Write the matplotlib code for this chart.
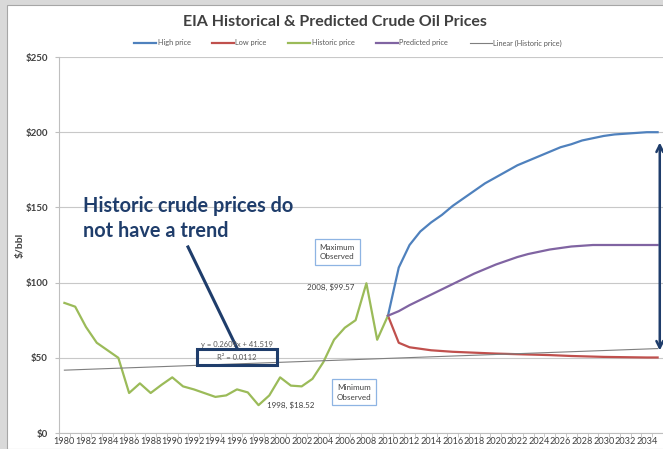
import matplotlib
matplotlib.use("Agg")
import matplotlib.pyplot as plt
import numpy as np
from matplotlib.patches import Rectangle

# data
hist_years = list(range(1980, 2011))
hist_price = [86.5, 84, 70.5, 60, 55, 50, 26.6, 33, 26.6, 32, 37, 31, 29, 26.5, 24,
              25, 29, 27, 18.52, 25, 37, 31.5, 31, 36, 47, 62, 70, 75, 99.57, 62, 78]

pred_years = list(range(2010, 2036))
high_price = [78, 110, 125, 134, 140, 145, 151, 156, 161, 166, 170, 174, 178, 181,
              184, 187, 190, 192, 194.5, 196, 197.5, 198.5, 199, 199.5, 200, 200]
low_price = [78, 60, 57, 56, 55, 54.5, 54, 53.7, 53.4, 53.1, 52.8, 52.6, 52.4, 52.2,
             52, 51.8, 51.5, 51.2, 51, 50.8, 50.6, 50.5, 50.4, 50.3, 50.2, 50.2]
predicted_price = [78, 81, 85, 88.5, 92, 95.5, 99, 102.5, 106, 109, 112, 114.5, 117,
                   119, 120.5, 122, 123, 124, 124.5, 125, 125, 125, 125, 125, 125, 125]

# trendline as printed on the chart
trend_slope = 0.2609
trend_intercept = 41.519
trend_r2 = 0.0112
all_years = list(range(1980, 2036))

yticks = [0, 50, 100, 150, 200, 250]
xtick_years = list(range(1980, 2035, 2))

BLUE, RED, GREEN, PURPLE = "#4F81BD", "#C0504D", "#9BBB59", "#8064A2"
NAVY = "#1F3D6B"
plt.rcParams["font.family"] = ["Lato", "DejaVu Sans"]

W, H = 663, 449
fig = plt.figure(figsize=(W / 100, H / 100), dpi=100)
fig.patch.set_facecolor("#d9d9d9")
fig.add_artist(Rectangle((7 / W, 0), 1, (H - 5) / H, transform=fig.transFigure,
                         facecolor="white", edgecolor="#a6a6a6", lw=0.8, zorder=0))

ax = fig.add_axes([59 / W, (H - 433) / H, (W - 59) / W, (433 - 57) / H])
ax.set_facecolor("none")

x_idx = np.arange(1, len(all_years) + 1)
ax.plot(pred_years, high_price, color=BLUE, lw=1.6, label="High price")
ax.plot(pred_years, low_price, color=RED, lw=1.6, label="Low price")
ax.plot(hist_years, hist_price, color=GREEN, lw=1.6, label="Historic price")
ax.plot(pred_years, predicted_price, color=PURPLE, lw=1.6, label="Predicted price")
ax.plot(all_years, trend_slope * x_idx + trend_intercept, color="#7f7f7f", lw=0.8,
        label="Linear (Historic price)")

ax.set_xlim(1979.5, 2035.5)
ax.set_ylim(0, 250)
ax.set_yticks(yticks)
ax.set_yticklabels([f"${v}" for v in yticks], fontsize=7, fontweight="bold", color="#404040")
ax.set_xticks(xtick_years)
ax.set_xticklabels([str(y) for y in xtick_years], fontsize=6.6, color="#404040")
ax.set_xticks(np.arange(1979.5, 2036, 1), minor=True)
ax.tick_params(axis="x", which="major", length=0, pad=3)
ax.tick_params(axis="x", which="minor", length=3, color="#bfbfbf", direction="out")
ax.tick_params(axis="y", length=3, color="#bfbfbf", pad=5)
ax.grid(axis="y", color="#c8c8c8", lw=0.8)
ax.set_axisbelow(True)
for s in ["top", "right"]:
    ax.spines[s].set_visible(False)
for s in ["left", "bottom"]:
    ax.spines[s].set_color("#bfbfbf")
ax.set_ylabel("$/bbl", fontsize=7.5, fontweight="bold", color="#404040")
ax.yaxis.set_label_coords(-34 / 604, 0.5)

fig.text(335 / W, 1 - 22 / H, "EIA Historical & Predicted Crude Oil Prices",
         ha="center", va="center", fontsize=11.5, fontweight="bold", color="#404040")
fig.legend(loc="center", bbox_to_anchor=(348 / W, 1 - 43 / H), ncol=5, frameon=False,
           fontsize=5.3, labelcolor="#595959", handlelength=3, columnspacing=2.9,
           handletextpad=0.2)

# annotations
ax.text(1981.7, 146.9, "Historic crude prices do", fontsize=14.3, fontweight="bold",
        color=NAVY, va="baseline", ha="left")
ax.text(1981.7, 130.5, "not have a trend", fontsize=14.3, fontweight="bold",
        color=NAVY, va="baseline", ha="left")
ax.plot([1991.46, 1996.0], [123.7, 56.5], color=NAVY, lw=2.2)
ax.add_patch(Rectangle((1992.3, 45.2), 7.4, 10.7, facecolor="none", edgecolor=NAVY,
                       lw=2.2, zorder=5))
ax.text(1996.0, 58.8, f"y = {trend_slope}x + {trend_intercept}", fontsize=5.5,
        color="#595959", ha="center", va="center")
ax.text(1996.0, 50.5, f"R² = {trend_r2}", fontsize=5.5, color="#595959",
        ha="center", va="center")

box = dict(boxstyle="square,pad=0.6", facecolor="white", edgecolor="#8EB4E3", lw=0.9)
ax.text(2005.3, 120.3, "Maximum\nObserved", fontsize=5.8, color="#404040",
        ha="center", va="center", bbox=box, linespacing=1.4)
ax.text(2006.85, 27, "Minimum\nObserved", fontsize=5.8, color="#404040",
        ha="center", va="center", bbox=box, linespacing=1.4)
ax.text(2006.85, 97, "2008, $99.57", fontsize=5.8, color="#404040", ha="right", va="center")
ax.text(1998.8, 18.6, "1998, $18.52", fontsize=5.8, color="#404040", ha="left", va="center")

ax.annotate("", xy=(2035.2, 195), xytext=(2035.2, 53),
            arrowprops=dict(arrowstyle="<->", color=NAVY, lw=1.8, mutation_scale=12),
            annotation_clip=False)

fig.savefig("out.png", dpi=100)
